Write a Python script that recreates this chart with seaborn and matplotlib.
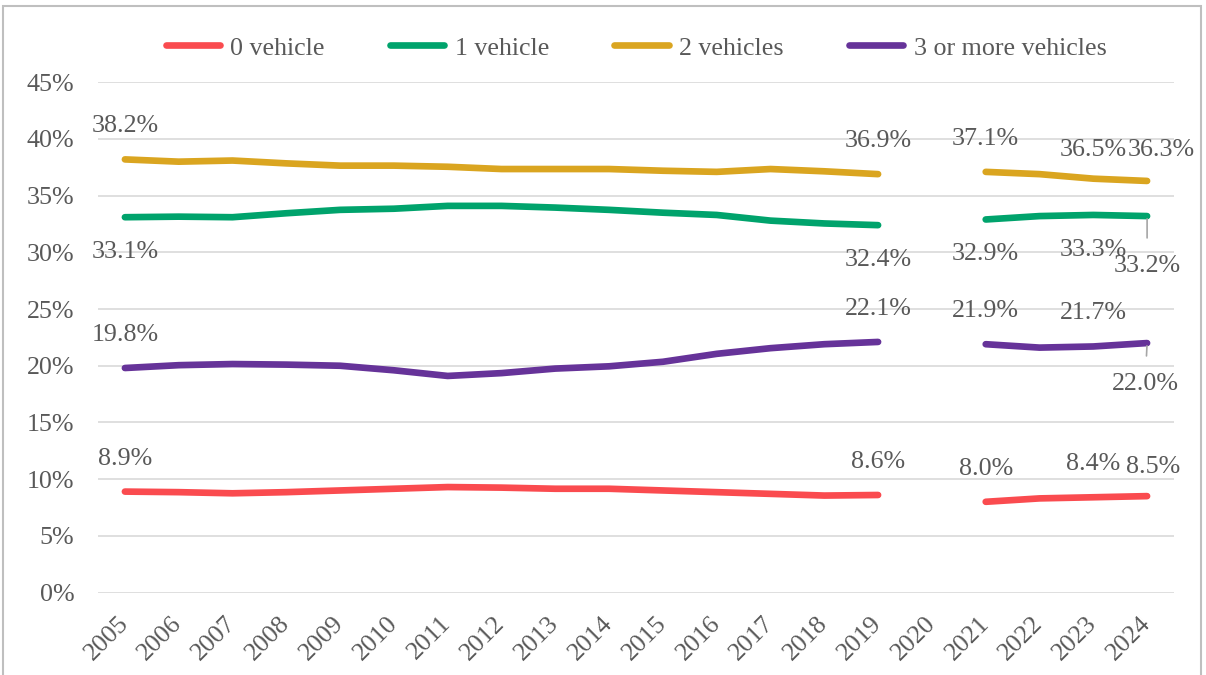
import matplotlib
matplotlib.use("Agg")
import matplotlib.pyplot as plt
from matplotlib.patches import Rectangle
from matplotlib.lines import Line2D
import numpy as np
import pandas as pd
import seaborn as sns

# Share of households by number of vehicles available (2020 not published)
years = list(range(2005, 2025))
groups = ["0 vehicle", "1 vehicle", "2 vehicles", "3 or more vehicles"]
nan = np.nan
zero_vehicle = [8.9, 8.85, 8.75, 8.85, 9.0, 9.15, 9.3, 9.25, 9.15, 9.15, 9.0, 8.85, 8.7, 8.55, 8.6,
                nan, 8.0, 8.3, 8.4, 8.5]
one_vehicle = [33.1, 33.15, 33.1, 33.45, 33.75, 33.85, 34.1, 34.1, 33.95, 33.75, 33.5, 33.3, 32.8, 32.55, 32.4,
               nan, 32.9, 33.2, 33.3, 33.2]
two_vehicles = [38.2, 38.0, 38.1, 37.85, 37.65, 37.65, 37.55, 37.35, 37.35, 37.35, 37.2, 37.1, 37.35, 37.15, 36.9,
                nan, 37.1, 36.9, 36.5, 36.3]
three_plus = [19.8, 20.05, 20.15, 20.1, 20.0, 19.6, 19.1, 19.35, 19.75, 19.95, 20.35, 21.05, 21.55, 21.9, 22.1,
              nan, 21.9, 21.6, 21.7, 22.0]
colors = ["#FA4B4F", "#00A36C", "#DAA520", "#663399"]
labelled_years = [2005, 2019, 2021, 2023, 2024]
y_ticks = list(range(0, 50, 5))

series = dict(zip(groups, [zero_vehicle, one_vehicle, two_vehicles, three_plus]))
rows = []
for g, vals in series.items():
    for yr, v in zip(years, vals):
        if not np.isnan(v):
            rows.append({"year": yr, "share": v, "group": g,
                         "segment": "a" if yr < 2020 else "b"})
df = pd.DataFrame(rows)

sns.set_theme(style="white")
TEXT = "#595959"
FS = 18.7
plt.rcParams["font.family"] = ["Liberation Serif", "DejaVu Serif"]
plt.rcParams["text.color"] = TEXT

fig = plt.figure(figsize=(12.06, 6.75), dpi=100)
ax = fig.add_axes([98 / 1206, 1 - 592.5 / 675, (1174 - 98) / 1206, (592.5 - 82.3) / 675])

sns.lineplot(data=df, x="year", y="share", hue="group", units="segment", estimator=None,
             palette=dict(zip(groups, colors)), hue_order=groups, linewidth=4.8,
             solid_capstyle="round", ax=ax, legend=False)

ax.set_xlim(2004.5, 2024.5)
ax.set_ylim(0, 45)
ax.set_yticks(y_ticks)
ax.set_yticklabels([f"{t}%" for t in y_ticks])
ax.set_xticks(years)
ax.set_xticklabels([str(y) for y in years], rotation=45, ha="right", va="center",
                   rotation_mode="anchor")
ax.set_xlabel("")
ax.set_ylabel("")
ax.tick_params(axis="y", length=0, pad=17, labelsize=FS, labelcolor=TEXT)
ax.tick_params(axis="x", length=0, pad=20, labelsize=FS, labelcolor=TEXT)
for s in ax.spines.values():
    s.set_visible(False)
ax.yaxis.grid(True, color="#D9D9D9", linewidth=1.2)
ax.xaxis.grid(False)
ax.set_axisbelow(True)

# Data labels: above for lines 0/2/3+, below for 1 vehicle; a few nudged near the right edge
default_dy = {"0 vehicle": 33, "1 vehicle": -35, "2 vehicles": 33, "3 or more vehicles": 33}
nudges = {("2 vehicles", 2023): (0, 29), ("2 vehicles", 2024): (14, 31),
          ("0 vehicle", 2024): (6, 29),
          ("1 vehicle", 2024): (0, -50), ("3 or more vehicles", 2024): (-2, -41)}
leaders = {("1 vehicle", 2024), ("3 or more vehicles", 2024)}
for g, vals in series.items():
    for yr in labelled_years:
        v = vals[years.index(yr)]
        dx, dy = nudges.get((g, yr), (0, default_dy[g]))
        arrow = None
        if (g, yr) in leaders:
            arrow = dict(arrowstyle="-", color="#A6A6A6", lw=1.2, shrinkA=10, shrinkB=2)
        ax.annotate(f"{v:.1f}%", xy=(yr, v), xytext=(dx, dy), textcoords="offset pixels",
                    ha="center", va="center", fontsize=FS, color=TEXT,
                    arrowprops=arrow, annotation_clip=False)

handles = [Line2D([], [], color=c, lw=4.8, solid_capstyle="round") for c in colors]
fig.legend(handles, groups, loc="center", bbox_to_anchor=(636 / 1206, 1 - 48 / 675),
           ncol=4, frameon=False, fontsize=FS, handlelength=2.1, handletextpad=0.4,
           columnspacing=2.5, labelcolor=TEXT)

# Chart-area border
fig.patches.append(Rectangle((3 / 1206, -0.01), (1201 - 3) / 1206, 1.01 - 6 / 675,
                             transform=fig.transFigure, fill=False,
                             edgecolor="#BFBFBF", linewidth=1.5))

fig.savefig("out.png", dpi=100, facecolor="white")
